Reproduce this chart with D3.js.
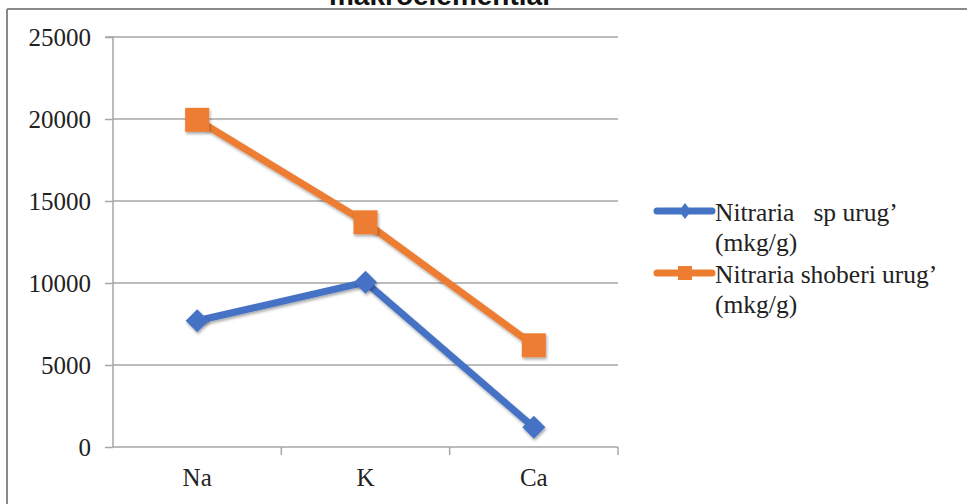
<!DOCTYPE html>
<html>
<head>
<meta charset="utf-8">
<script src="https://cdn.jsdelivr.net/npm/d3@7"></script>
<style>
  html, body { margin: 0; padding: 0; background: #fff; }
  svg { display: block; }
</style>
</head>
<body>
<div id="chart"></div>
<script>
const categories = ["Na", "K", "Ca"];
const seriesNames = ["Nitraria   sp urug’", "Nitraria shoberi urug’"];
const seriesUnits = ["(mkg/g)", "(mkg/g)"];
const spValues = [7700, 10050, 1200];
const shoberiValues = [19950, 13700, 6200];
const yTicks = [0, 5000, 10000, 15000, 20000, 25000];
const titleText = "makroelementlar";
const colors = ["#4472C4", "#ED7D31"];

const W = 967, H = 504;
const svg = d3.select("#chart").append("svg").attr("width", W).attr("height", H);

const defs = svg.append("defs");
const f = defs.append("filter").attr("id", "sh").attr("x", "-50%").attr("y", "-50%").attr("width", "200%").attr("height", "200%");
f.append("feDropShadow").attr("dx", 1).attr("dy", 2).attr("stdDeviation", 1.5).attr("flood-color", "#000").attr("flood-opacity", 0.35);

// frame
svg.append("line").attr("x1", 7).attr("x2", W).attr("y1", 9).attr("y2", 9).attr("stroke", "#8a8a8a").attr("stroke-width", 2);
svg.append("line").attr("x1", 7).attr("x2", 7).attr("y1", 9).attr("y2", H).attr("stroke", "#8a8a8a").attr("stroke-width", 2);

// title (cut off at top, as in the reference)
svg.append("text").attr("x", 441).attr("y", 5).attr("text-anchor", "middle")
  .attr("font-family", "Liberation Sans, Arial, sans-serif").attr("font-weight", "bold")
  .attr("font-size", 28).attr("fill", "#111").text(titleText);

const x = d3.scaleBand().domain(categories).range([113, 618]).paddingInner(0).paddingOuter(0);
const y = d3.scaleLinear().domain([0, 25000]).range([447, 37]);
const cx = c => x(c) + x.bandwidth() / 2;

const serif = "Liberation Serif, Times New Roman, serif";

// gridlines
svg.append("g").selectAll("line").data(yTicks.filter(t => t > 0)).join("line")
  .attr("x1", 113).attr("x2", 618).attr("y1", d => y(d)).attr("y2", d => y(d))
  .attr("stroke", "#a6a6a6").attr("stroke-width", 1.5);

// y axis
const yAxis = svg.append("g").attr("transform", "translate(113,0)")
  .call(d3.axisLeft(y).tickValues(yTicks).tickSize(8).tickPadding(14).tickFormat(d3.format("d")));
yAxis.select(".domain").attr("stroke", "#a6a6a6").attr("stroke-width", 1.5).attr("d", `M-8,${y(25000)}H0V${y(0)}`);
yAxis.selectAll(".tick line").attr("stroke", "#a6a6a6").attr("stroke-width", 1.5);
yAxis.selectAll(".tick text").attr("font-family", serif).attr("font-size", 25).attr("fill", "#222").attr("dy", "0.34em");

// x axis
const xAxis = svg.append("g").attr("transform", `translate(0,${y(0)})`)
  .call(d3.axisBottom(x).tickSize(0).tickPadding(34));
xAxis.select(".domain").attr("stroke", "#a6a6a6").attr("stroke-width", 1.5).attr("d", "M113,0H618");
xAxis.selectAll(".tick text").attr("font-family", serif).attr("font-size", 25).attr("fill", "#222").attr("dy", "0.2em");
// x tick marks at band boundaries
const bounds = categories.map(c => x(c)).slice(1).concat([x(categories[categories.length - 1]) + x.bandwidth()]);
svg.append("g").selectAll("line").data(bounds).join("line")
  .attr("x1", d => d).attr("x2", d => d).attr("y1", y(0)).attr("y2", y(0) + 8)
  .attr("stroke", "#a6a6a6").attr("stroke-width", 1.5);

const series = [spValues, shoberiValues];
const line = d3.line().x((d, i) => cx(categories[i])).y(d => y(d));

series.forEach((vals, s) => {
  svg.append("path").datum(vals).attr("d", line).attr("fill", "none")
    .attr("stroke", colors[s]).attr("stroke-width", 7).attr("stroke-linejoin", "round")
    .attr("filter", "url(#sh)");
});

// markers
const diamond = (px, py, r) => `M${px},${py - r}L${px + r},${py}L${px},${py + r}L${px - r},${py}Z`;
svg.append("g").selectAll("path").data(spValues).join("path")
  .attr("d", (d, i) => diamond(cx(categories[i]), y(d), 11.5))
  .attr("fill", colors[0]).attr("filter", "url(#sh)");
svg.append("g").selectAll("rect").data(shoberiValues).join("rect")
  .attr("x", (d, i) => cx(categories[i]) - 12).attr("y", d => y(d) - 12)
  .attr("width", 24).attr("height", 24)
  .attr("fill", colors[1]).attr("filter", "url(#sh)");

// legend
const legY = [211, 273];
const leg = svg.append("g");
seriesNames.forEach((name, s) => {
  const g = leg.append("g");
  g.append("line").attr("x1", 657).attr("x2", 712).attr("y1", legY[s]).attr("y2", legY[s])
    .attr("stroke", colors[s]).attr("stroke-width", 7).attr("stroke-linecap", "round");
  if (s === 0) {
    g.append("path").attr("d", `M685,${legY[s] - 8}L691,${legY[s]}L685,${legY[s] + 8}L679,${legY[s]}Z`).attr("fill", colors[s]);
  } else {
    g.append("rect").attr("x", 678).attr("y", legY[s] - 7).attr("width", 14).attr("height", 14).attr("fill", colors[s]);
  }
  const t = g.append("text").attr("font-family", serif).attr("font-size", 25.5).attr("fill", "#222")
    .style("white-space", "pre");
  t.append("tspan").attr("x", 715).attr("y", legY[s] + 10).text(name);
  t.append("tspan").attr("x", 715).attr("y", legY[s] + 40).text(seriesUnits[s]);
});
</script>
</body>
</html>
